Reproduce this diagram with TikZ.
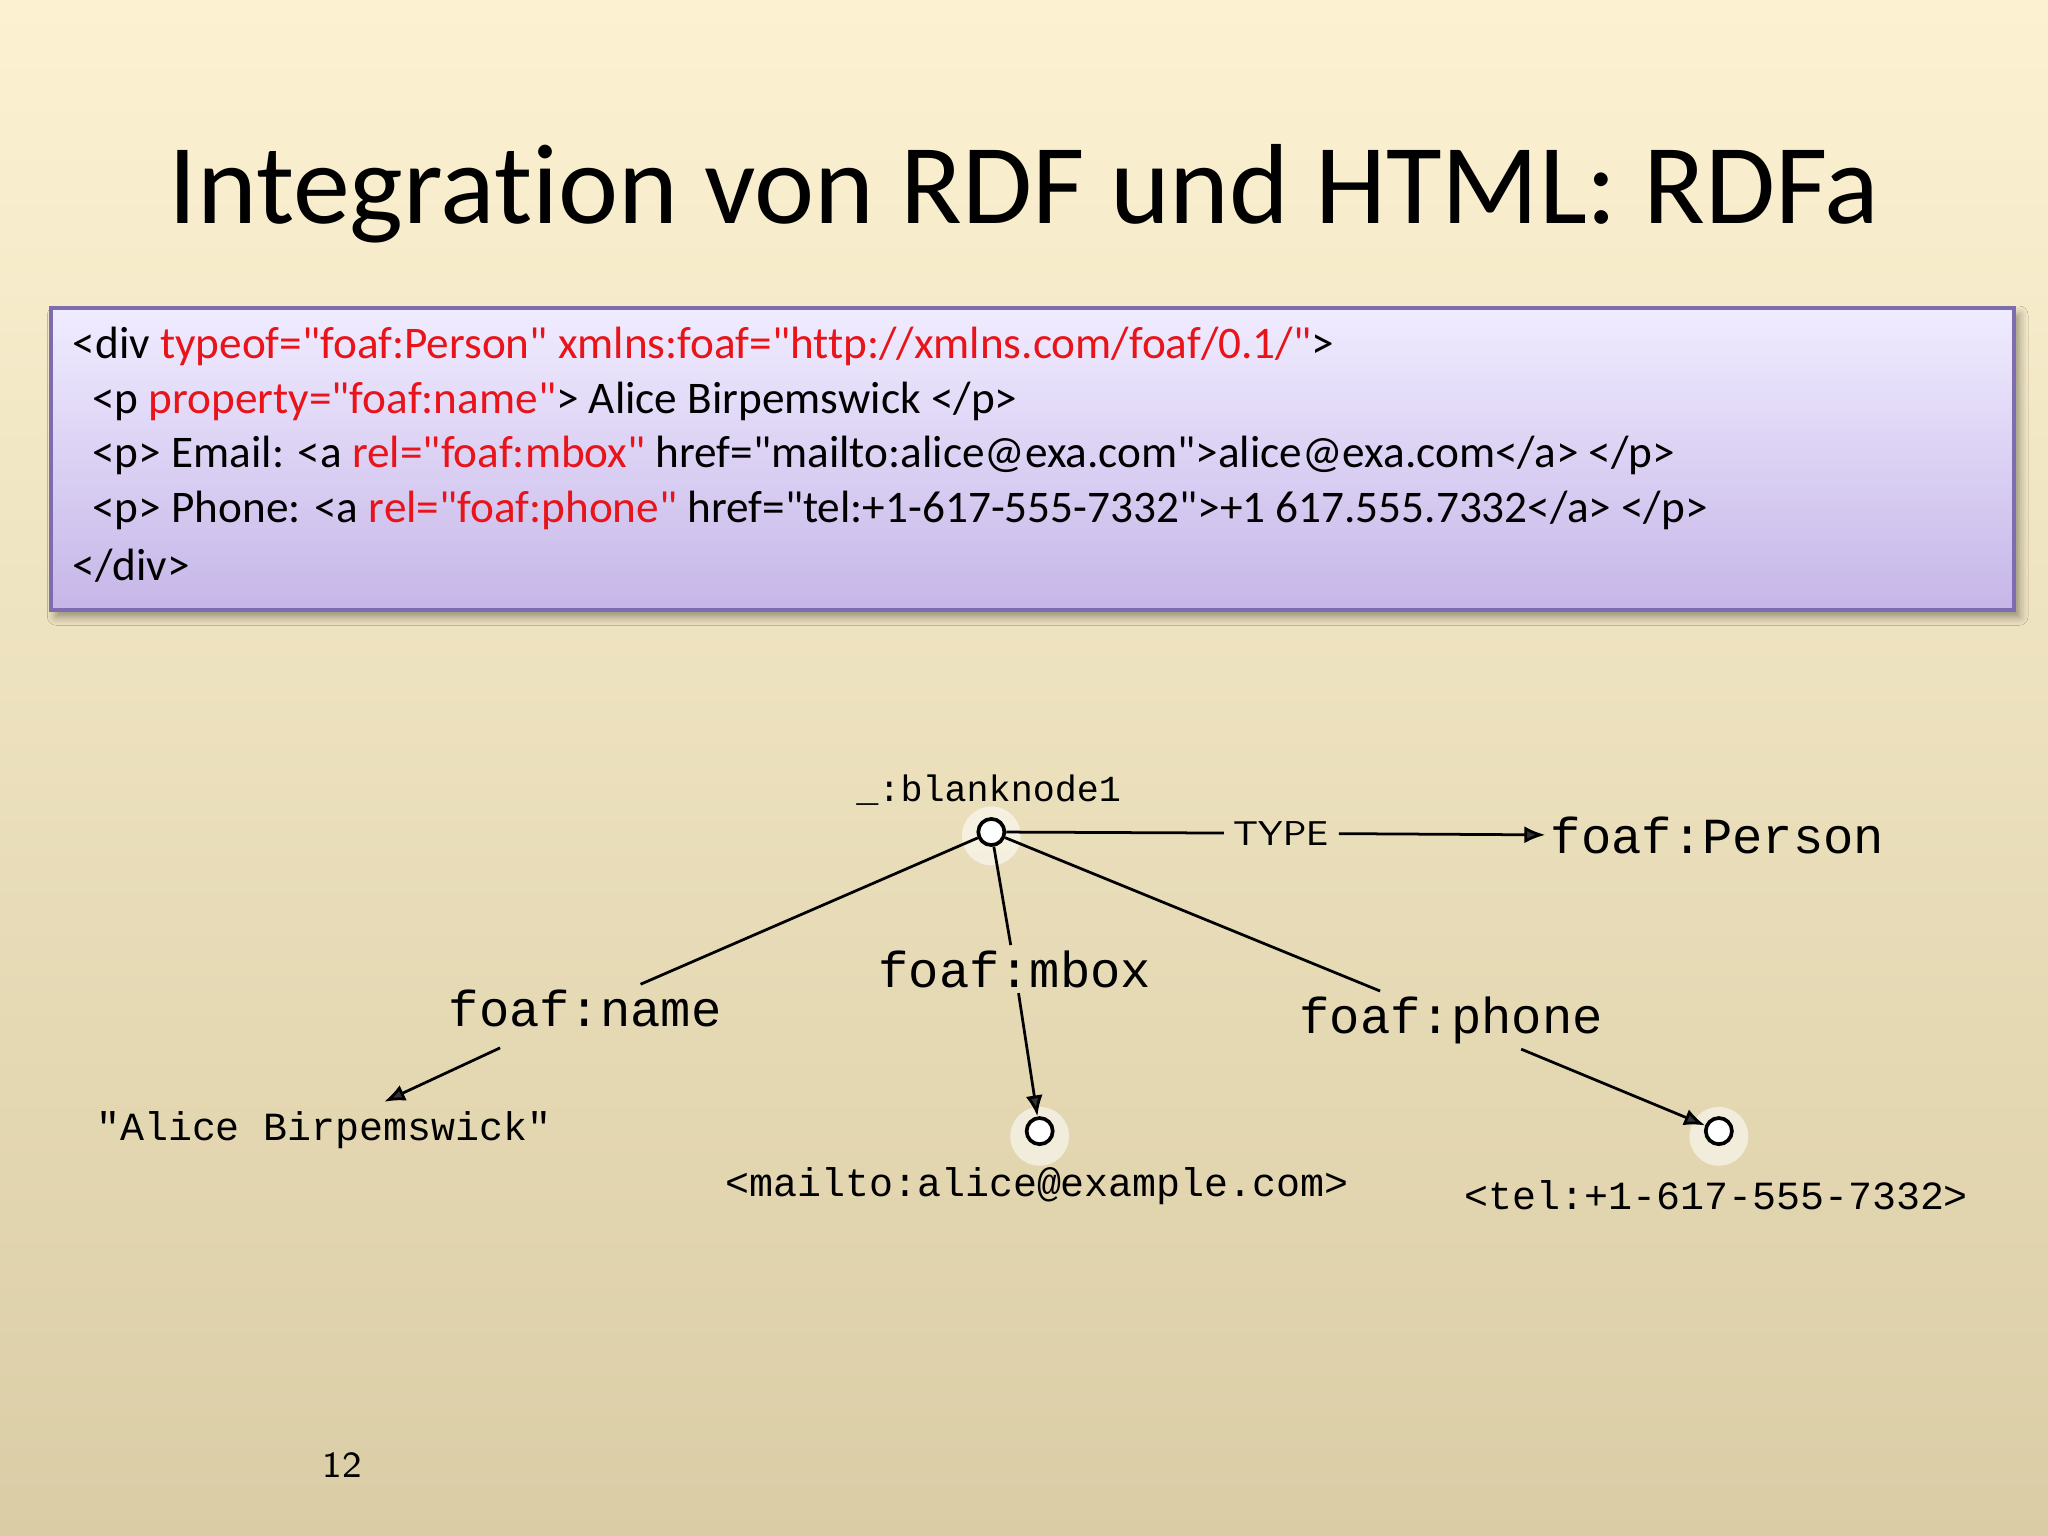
\documentclass[tikz,border=0pt]{standalone}
\usepackage{fontspec}
\setmainfont{Carlito}
\newfontfamily\codef{Carlito}[Ligatures=NoCommon]
\newfontfamily\monof{Liberation Mono}
\usetikzlibrary{arrows.meta,shadows.blur}
\definecolor{rdfred}{HTML}{E8141A}
\definecolor{bgtop}{HTML}{FCF2D2}
\definecolor{bgbot}{HTML}{DACDA6}
\definecolor{boxtop}{HTML}{F0ECFF}
\definecolor{boxbot}{HTML}{C6B6E8}
\definecolor{boxline}{HTML}{7E6CB0}
\tikzset{
  codeline/.style={anchor=west,inner sep=0pt,font=\codef\fontsize{9.85pt}{11pt}\selectfont},
  mono/.style={inner sep=1pt,font=\monof\fontsize{#1}{12pt}\selectfont},
  res/.style={circle,draw=black,line width=0.8pt,fill=white,minimum size=0.2cm,inner sep=0pt},
  glow/.style={circle,fill=white,opacity=0.55,minimum size=0.45cm,inner sep=0pt},
  edge/.style={line width=0.6pt},
  arr/.style={line width=0.6pt,-{Latex[length=0.16cm,width=0.13cm]}}
}
\begin{document}
\begin{tikzpicture}[x=0.01cm,y=-0.01cm]
\shade[top color=bgtop,bottom color=bgbot] (0,0) rectangle (1568,1176);
\useasboundingbox (0,0) rectangle (1568,1176);
\node (title) at (784,148) {\codef\fontsize{24.8pt}{28pt}\selectfont Integration von RDF und HTML: RDFa};
\shade[top color=boxtop,bottom color=boxbot,draw=boxline,line width=0.8pt,blur shadow={shadow blur steps=5,shadow xshift=0.04cm,shadow yshift=-0.05cm}] (39,236) rectangle (1542,467);
\node[codeline] (c1) at (55,265) {<div \textcolor{rdfred}{typeof="foaf:Person" xmlns:foaf="http://xmlns.com/foaf/0.1/"}>};
\node[codeline] (c2) at (70,307) {<p \textcolor{rdfred}{property="foaf:name"}> Alice Birpemswick </p>};
\node[codeline] (c3) at (70,349) {<p> Email: <a \textcolor{rdfred}{rel="foaf:mbox"} href="mailto:alice@exa.com">alice@exa.com</a> </p>};
\node[codeline] (c4) at (70,391) {<p> Phone: <a \textcolor{rdfred}{rel="foaf:phone"} href="tel:+1-617-555-7332">+1 617.555.7332</a> </p>};
\node[codeline] (c5) at (55,433) {</div>};
% graph
\node[glow] at (759,640) {};
\node[glow] at (796,870) {};
\node[glow] at (1316,870) {};
\node[res] (bn) at (759,637) {};
\node[mono=8pt] (bnl) at (757,605) {\_:blanknode1};
\node[inner sep=2pt,font=\sffamily\fontsize{7.5pt}{9pt}\selectfont] (type) at (981,638) {TYPE};
\node[mono=11pt] (person) at (1315,640) {foaf:Person};
\draw[edge] (bn) -- (type);
\draw[arr] (type) -- (person);
\node[mono=11pt] (lname) at (448,772) {foaf:name};
\node[mono=8.7pt] (alice) at (248,865) {"Alice Birpemswick"};
\draw[edge] (bn) -- (lname);
\draw[arr,shorten <=8pt,shorten >=2pt] (lname) -- (alice);
\node[mono=11pt] (lmbox) at (777,742) {foaf:mbox};
\node[res] (mbox) at (796,866) {};
\node[mono=8.7pt] (mboxl) at (794,908) {<mailto:alice@example.com>};
\draw[edge] (bn) -- (lmbox);
\draw[arr] (lmbox) -- (mbox);
\node[mono=11pt] (lphone) at (1111,781) {foaf:phone};
\node[res] (phone) at (1316,866) {};
\node[mono=8.7pt] (phonel) at (1314,915) {<tel:+1-617-555-7332>};
\draw[edge] (bn) -- (lphone);
\draw[arr] (lphone) -- (phone);
\node[font=\sffamily\fontsize{8pt}{9pt}\selectfont] (pg) at (262,1122) {12};
\end{tikzpicture}
\end{document}
